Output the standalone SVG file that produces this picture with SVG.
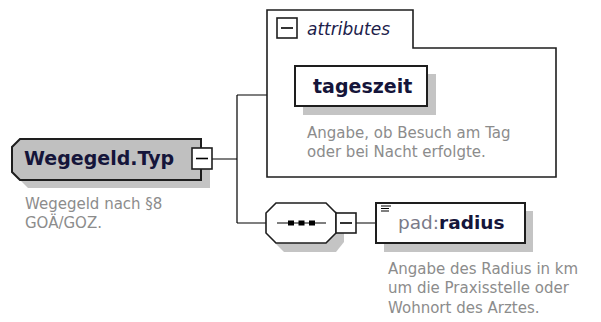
<svg xmlns="http://www.w3.org/2000/svg" width="601" height="322" viewBox="0 0 601 322">
<style>
.shadow{fill:#c4c4c4;stroke:none}
.box{fill:#fff;stroke:#1e1e1e;stroke-width:2}
.frame{fill:none;stroke:#1e1e1e;stroke-width:1.6}
.conn{fill:none;stroke:#000;stroke-width:1.2}
.mbox{fill:#fff;stroke:#1e1e1e;stroke-width:1.6}
.minus{stroke:#000;stroke-width:1.6}
.title{font-family:"DejaVu Sans",sans-serif;font-weight:bold;font-size:19px;fill:#15153a}
.desc{font-family:"DejaVu Sans",sans-serif;font-size:15px;fill:#8c8c8c}
.attr{font-family:"DejaVu Sans",sans-serif;font-style:italic;font-size:17px;fill:#20204a}
</style>
<rect width="601" height="322" fill="#fff"/>
<g id="connectors">
<path class="conn" d="M212,159 H237 M237,95 V223 M237,95 H267 M237,223 H266 M356,223 H376"/>
</g>
<g id="attributes">
<path class="frame" d="M267,10 H413 V48 H556 V177 H267 Z"/>
<rect class="mbox" x="277" y="18" width="20" height="20"/>
<line class="minus" x1="281" y1="28" x2="293" y2="28"/>
<text class="attr" x="307" y="35">attributes</text>
</g>
<g id="tageszeit">
<rect class="shadow" x="303" y="74" width="133" height="41"/>
<rect class="box" x="295" y="66" width="132" height="40"/>
<text class="title" x="313" y="93">tageszeit</text>
<text class="desc" x="307" y="138">Angabe, ob Besuch am Tag</text>
<text class="desc" x="307" y="157">oder bei Nacht erfolgte.</text>
</g>
<g id="wegegeld">
<path class="shadow" d="M28,147 H210 V188 H28 L20,180 V155 Z"/>
<path d="M20,139 H201 V180 H20 L12,172 V147 Z" fill="#c0c0c0" stroke="#1e1e1e" stroke-width="2"/>
<rect class="mbox" x="192" y="148" width="20" height="21"/>
<line class="minus" x1="196" y1="158.5" x2="208" y2="158.5"/>
<text class="title" x="24" y="165">Wegegeld.Typ</text>
<text class="desc" x="25" y="209">Wegegeld nach §8</text>
<text class="desc" x="25" y="228">GOÄ/GOZ.</text>
</g>
<g id="sequence">
<path class="shadow" d="M284,211 H336 L344,221 V242 L336,252 H284 L274,242 V221 Z"/>
<path d="M276,203 H326 L336,213 V233 L326,243 H276 L266,233 V213 Z" fill="#fff" stroke="#1e1e1e" stroke-width="1.6"/>
<line x1="277" y1="223" x2="326" y2="223" stroke="#000" stroke-width="1.2"/>
<rect x="288" y="220.5" width="6" height="5" fill="#000"/>
<rect x="298.5" y="220.5" width="6" height="5" fill="#000"/>
<rect x="309" y="220.5" width="6" height="5" fill="#000"/>
<rect class="mbox" x="336" y="213" width="20" height="20"/>
<line class="minus" x1="340" y1="223" x2="352" y2="223"/>
</g>
<g id="radius">
<rect class="shadow" x="384" y="211" width="149" height="41"/>
<rect class="box" x="376" y="203" width="149" height="40"/>
<path d="M381,206 H391 M381,208.5 H389 M381,211 H389" stroke="#000" stroke-width="1.2"/>
<text x="398" y="229" style="font-family:'DejaVu Sans',sans-serif;font-size:18.5px"><tspan fill="#7a7a88">pad:</tspan><tspan font-weight="bold" fill="#15153a">radius</tspan></text>
<text class="desc" x="388" y="274">Angabe des Radius in km</text>
<text class="desc" x="388" y="293">um die Praxisstelle oder</text>
<text class="desc" x="388" y="313">Wohnort des Arztes.</text>
</g>
</svg>
